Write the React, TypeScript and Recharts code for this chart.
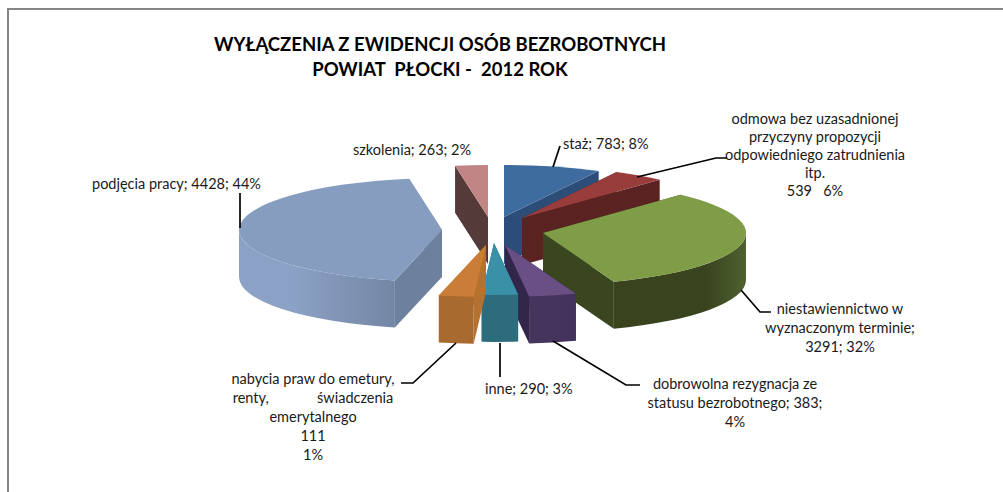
import React from "react";
import { PieChart, Pie } from "recharts";

// Slice sizes as drawn in the picture (two hand-edited labels in the source differ from their wedge size).
const categories = ["szkolenia", "staż", "odmowa", "niestawiennictwo", "dobrowolna rezygnacja", "inne", "nabycia praw", "podjęcia pracy"];
const sliceValues = [263, 783, 420, 3291, 383, 290, 280, 4428];
const labelLines = [
  ["szkolenia; 263; 2%"],
  ["staż; 783; 8%"],
  ["odmowa bez uzasadnionej", "przyczyny propozycji", "odpowiedniego zatrudnienia", "itp.", "539\u00a0\u00a0\u00a06%"],
  ["niestawiennictwo w", "wyznaczonym terminie;", "3291; 32%"],
  ["dobrowolna rezygnacja ze", "statusu bezrobotnego; 383;", "4%"],
  ["inne; 290; 3%"],
  ["nabycia praw do emetury,", "renty,\u00a0\u00a0\u00a0\u00a0\u00a0\u00a0\u00a0\u00a0\u00a0\u00a0\u00a0\u00a0\u00a0świadczenia", "emerytalnego", "111", "1%"],
  ["podjęcia pracy; 4428; 44%"],
];
const titleLines = ["WYŁĄCZENIA Z EWIDENCJI OSÓB BEZROBOTNYCH", "POWIAT  PŁOCKI -  2012 ROK"];

// Styling and layout, per slice
const topColors = ["#C08584", "#3F6C9E", "#983D3B", "#7F9C47", "#6A4F85", "#3A90A7", "#C97D36", "#879DC0"];
const faceColors = ["#553A3A", "#2B4D78", "#5A2321", "#3A4620", "#32264A", "#2C6C7C", "#B5722F", "#6E819C"];
const wallFrom = ["#553A3A", "#2B4D78", "#5A2321", "#4F6130", "#45345C", "#2C6C7C", "#A96A2F", "#8BA1C5"];
const wallTo = ["#553A3A", "#2B4D78", "#5A2321", "#39441F", "#43335A", "#2C6C7C", "#A96A2F", "#7386A3"];
const apexOffset: [number, number][] = [[-2, -13], [14, -13], [32, -12], [53, 3], [15, 15], [4, 13], [-4, 15], [-48, 0]];
const labelAnchor: [number, number, string][] = [
  [353, 149, "start"], [563, 143, "start"], [815, 118, "middle"], [840, 308, "middle"],
  [735, 383, "middle"], [485, 388, "start"], [313, 378, "middle"], [92, 183, "start"],
];
const leaderPaths: string[] = [
  "", "M553 167L560 146", "M637 177L716 158L727 158", "M741 290L760 312L771 312",
  "M553 341L626 385L640 385", "M500 343L500 377", "M456 343L413 383L401 383", "M240 228L240 193",
];
const lineStep = [18.5, 18.5, 18.2, 19, 19, 19, 19.2, 19];

const table = categories.map((name, idx) => ({ name, value: sliceValues[idx], idx }));
const total = sliceValues.reduce((a, b) => a + b, 0);
const firstAngle = 90 + (360 * sliceValues[0]) / total;

const FLATTEN = 0.256;
const DEPTH = 47;
const FONT = "Lato, Carlito, 'Open Sans', sans-serif";

function pt(ax: number, ay: number, rx: number, deg: number): [number, number] {
  const t = ((90 - deg) * Math.PI) / 180; // clockwise from the top
  return [ax + rx * Math.sin(t), ay - rx * FLATTEN * Math.cos(t)];
}

function Slice(props: any) {
  const { cx, cy, outerRadius: r, startAngle, endAngle, idx } = props;
  const [dx, dy] = apexOffset[idx];
  const ax = cx + dx;
  const ay = cy + dy;
  const ry = r * FLATTEN;
  const p0 = pt(ax, ay, r, startAngle);
  const p1 = pt(ax, ay, r, endAngle);
  const large = Math.abs(endAngle - startAngle) > 180 ? 1 : 0;
  const top = `M${ax} ${ay}L${p0[0]} ${p0[1]}A${r} ${ry} 0 ${large} 1 ${p1[0]} ${p1[1]}Z`;
  const face = (q: [number, number]) =>
    `M${ax} ${ay}L${q[0]} ${q[1]}L${q[0]} ${q[1] + DEPTH}L${ax} ${ay + DEPTH}Z`;
  // outer wall: the part of the arc that faces the viewer
  const a = 90 - startAngle;
  const b = 90 - endAngle;
  const lo = Math.max(a, 90);
  const hi = Math.min(b, 270);
  let wall = "";
  if (hi > lo) {
    const w0 = pt(ax, ay, r, 90 - lo);
    const w1 = pt(ax, ay, r, 90 - hi);
    wall = `M${w0[0]} ${w0[1]}A${r} ${ry} 0 0 1 ${w1[0]} ${w1[1]}L${w1[0]} ${w1[1] + DEPTH}A${r} ${ry} 0 0 0 ${w0[0]} ${w0[1] + DEPTH}Z`;
  }
  return (
    <g>
      <path d={face(p0)} fill={faceColors[idx]} />
      <path d={face(p1)} fill={faceColors[idx]} />
      {wall && <path d={wall} fill={`url(#wall${idx})`} />}
      <path d={top} fill={topColors[idx]} />
    </g>
  );
}

function SliceLabel(props: any) {
  const idx = props.idx;
  const [x, y, anchor] = labelAnchor[idx];
  return (
    <g>
      {leaderPaths[idx] && <path d={leaderPaths[idx]} fill="none" stroke="#000" strokeWidth={1.7} />}
      <text x={x} y={y} textAnchor={anchor as any} fontFamily={FONT} fontSize={14.5} fill="#1a1a1a">
        {labelLines[idx].map((line, i) => (
          <tspan key={i} x={x} y={y + i * lineStep[idx]} dominantBaseline="central">
            {line}
          </tspan>
        ))}
      </text>
    </g>
  );
}

export default function App() {
  return (
    <div style={{ position: "fixed", left: 0, top: 0, width: 1003, height: 492, background: "#fff" }}>
      <PieChart width={1003} height={492} margin={{ top: 0, right: 0, bottom: 0, left: 0 }}>
        <defs>
          {categories.map((_, i) => (
            <linearGradient key={i} id={`wall${i}`} x1="0" y1="0" x2="1" y2="0">
              <stop offset="0" stopColor={i === 3 ? wallTo[i] : wallFrom[i]} />
              <stop offset={i === 3 ? "0.7" : "0.35"} stopColor={i === 3 ? wallTo[i] : wallFrom[i]} />
              <stop offset="1" stopColor={i === 3 ? wallFrom[i] : wallTo[i]} />
            </linearGradient>
          ))}
        </defs>
        <path d="M1003 9H8V492" fill="none" stroke="#858585" strokeWidth={2} />
        {titleLines.map((line, i) => (
          <text key={i} x={440} y={44 + i * 25} textAnchor="middle" dominantBaseline="central" fontFamily={FONT} fontWeight={700} fontSize={18.5} fill="#000" xmlSpace="preserve">
            {line}
          </text>
        ))}
        <Pie
          data={table}
          dataKey="value"
          nameKey="name"
          cx={490}
          cy={230}
          outerRadius={203}
          startAngle={firstAngle}
          endAngle={firstAngle - 360}
          shape={Slice}
          label={SliceLabel}
          labelLine={false}
          isAnimationActive={false}
        />
      </PieChart>
    </div>
  );
}
